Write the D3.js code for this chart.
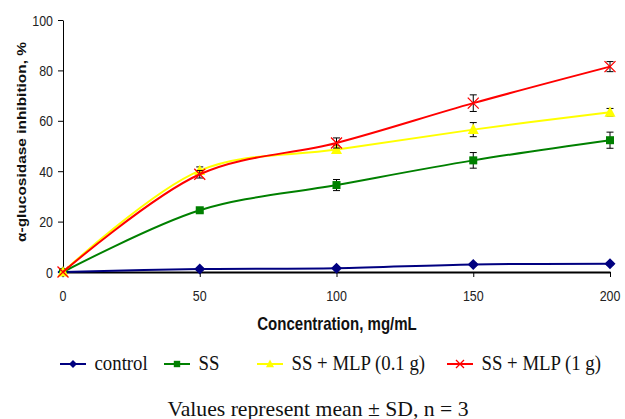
<!DOCTYPE html>
<html><head><meta charset="utf-8">
<script src="https://cdn.jsdelivr.net/npm/d3@7"></script>
<style>body{margin:0;background:#fff}svg{display:block}</style>
</head><body>
<svg id="c" width="625" height="419"></svg>
<script>
const concentrations = [0, 50, 100, 150, 200];
const controlVals = [0, 1.2, 1.5, 3.0, 3.3];
const controlSD = [0, 0.4, 0.4, 0.5, 0.5];
const ssVals = [0, 24.5, 34.5, 44.3, 52.3];
const ssSD = [0, 1.0, 2.2, 3.1, 3.2];
const mlp01Vals = [0, 40.2, 48.6, 56.5, 63.4];
const mlp01SD = [0, 1.5, 1.5, 2.8, 1.5];
const mlp1Vals = [0, 38.8, 51.2, 67.0, 81.5];
const mlp1SD = [0, 1.5, 2.0, 3.3, 2.0];
const yTicks = [0, 20, 40, 60, 80, 100];
const xTicks = [0, 50, 100, 150, 200];
const seriesNames = ["control", "SS", "SS + MLP (0.1 g)", "SS + MLP (1 g)"];

const series = [
  {name: seriesNames[0], vals: controlVals, sd: controlSD, color: "#000080", marker: "diamond"},
  {name: seriesNames[1], vals: ssVals, sd: ssSD, color: "#008000", marker: "square"},
  {name: seriesNames[2], vals: mlp01Vals, sd: mlp01SD, color: "#ffff00", marker: "triangle"},
  {name: seriesNames[3], vals: mlp1Vals, sd: mlp1SD, color: "#ff0000", marker: "x"}
];

const svg = d3.select("#c");
const x = d3.scaleLinear().domain([0, 200]).range([63, 610]);
const y = d3.scaleLinear().domain([0, 100]).range([272, 20]);
const SANS = "Liberation Sans, Arial, sans-serif";
const SERIF = "Liberation Serif, Times New Roman, serif";

function txt(str, px, py, opt) {
  const t = svg.append("text")
    .attr("transform", `translate(${px},${py})` + (opt.rot ? ` rotate(${opt.rot})` : "") + ` scale(${opt.sx || 1},${opt.sy || 1})`)
    .attr("text-anchor", opt.anchor || "start")
    .attr("font-family", opt.family || SANS)
    .attr("font-size", opt.size)
    .attr("fill", opt.fill || "#111")
    .text(str);
  if (opt.bold) t.attr("font-weight", "bold");
  return t;
}

// y axis
const yAxis = svg.append("g").attr("transform", "translate(63,0)")
  .call(d3.axisLeft(y).tickValues(yTicks).tickSize(5).tickSizeOuter(0).tickFormat(""));
yAxis.select(".domain").attr("stroke", "#000").attr("stroke-width", 1);
yAxis.selectAll(".tick line").attr("stroke", "#000");
yTicks.forEach(v => txt(String(v), 53, y(v) + 5.5, {size: 15.5, sx: 0.8, anchor: "end", fill: "#222"}));

// x axis
const xAxis = svg.append("g").attr("transform", "translate(0,272)")
  .call(d3.axisBottom(x).tickValues(xTicks).tickSize(5).tickSizeOuter(0).tickFormat(""));
xAxis.select(".domain").attr("stroke", "#000").attr("stroke-width", 2);
xAxis.selectAll(".tick line").attr("stroke", "#000");
xTicks.forEach(v => txt(String(v), x(v), 300.5, {size: 15, sx: 0.83, anchor: "middle", fill: "#222"}));

// axis titles
txt("Concentration, mg/mL", 337, 330, {size: 17.5, sx: 0.86, anchor: "middle", bold: true});
txt("α-glucosidase inhibition, %", 26, 142, {size: 13, sx: 1.19, rot: -90, anchor: "middle", bold: true});

const line = d3.line().x((d, i) => x(concentrations[i])).y(d => y(d)).curve(d3.curveCatmullRom.alpha(0.5));

function drawMarker(g, type, cx, cy, color, s) {
  if (type === "diamond") {
    g.append("path").attr("d", `M${cx},${cy - s}L${cx + s},${cy}L${cx},${cy + s}L${cx - s},${cy}Z`).attr("fill", color);
  } else if (type === "square") {
    g.append("rect").attr("x", cx - s * 0.8).attr("y", cy - s * 0.8).attr("width", s * 1.6).attr("height", s * 1.6).attr("fill", color);
  } else if (type === "triangle") {
    g.append("path").attr("d", `M${cx},${cy - s * 1.1}L${cx + s},${cy + s * 0.8}L${cx - s},${cy + s * 0.8}Z`).attr("fill", color);
  } else {
    g.append("path").attr("d", `M${cx - s},${cy - s}L${cx + s},${cy + s}M${cx - s},${cy + s}L${cx + s},${cy - s}`).attr("stroke", color).attr("stroke-width", 1.3).attr("fill", "none");
  }
}

series.forEach(s => {
  const g = svg.append("g");
  g.append("path").datum(s.vals).attr("d", line).attr("fill", "none").attr("stroke", s.color).attr("stroke-width", 2);
  s.vals.forEach((v, i) => {
    if (s.sd[i] <= 0) return;
    const cx = x(concentrations[i]);
    const y1 = y(v + s.sd[i]), y2 = y(v - s.sd[i]);
    g.append("path").attr("d", `M${cx},${y1}L${cx},${y2}M${cx - 3.5},${y1}L${cx + 3.5},${y1}M${cx - 3.5},${y2}L${cx + 3.5},${y2}`)
      .attr("stroke", "#000").attr("stroke-width", 1).attr("fill", "none");
  });
  s.vals.forEach((v, i) => {
    drawMarker(g, s.marker, x(concentrations[i]), y(v), s.color, s.marker === "square" ? 5 : 5.5);
  });
});

// legend
const legendX = [60, 164, 257, 447];
const legendY = 364;
series.forEach((s, i) => {
  const g = svg.append("g");
  const lx = legendX[i];
  g.append("line").attr("x1", lx).attr("x2", lx + 26).attr("y1", legendY).attr("y2", legendY).attr("stroke", s.color).attr("stroke-width", 2);
  drawMarker(g, s.marker, lx + 13, legendY, s.color, 4);
  txt(s.name, lx + 34.5, 370, {size: 18.8, sy: 1.1, family: SERIF});
});

txt("Values represent mean ± SD, n = 3", 318, 415.5, {size: 21.7, anchor: "middle", family: SERIF});
</script>
</body></html>
